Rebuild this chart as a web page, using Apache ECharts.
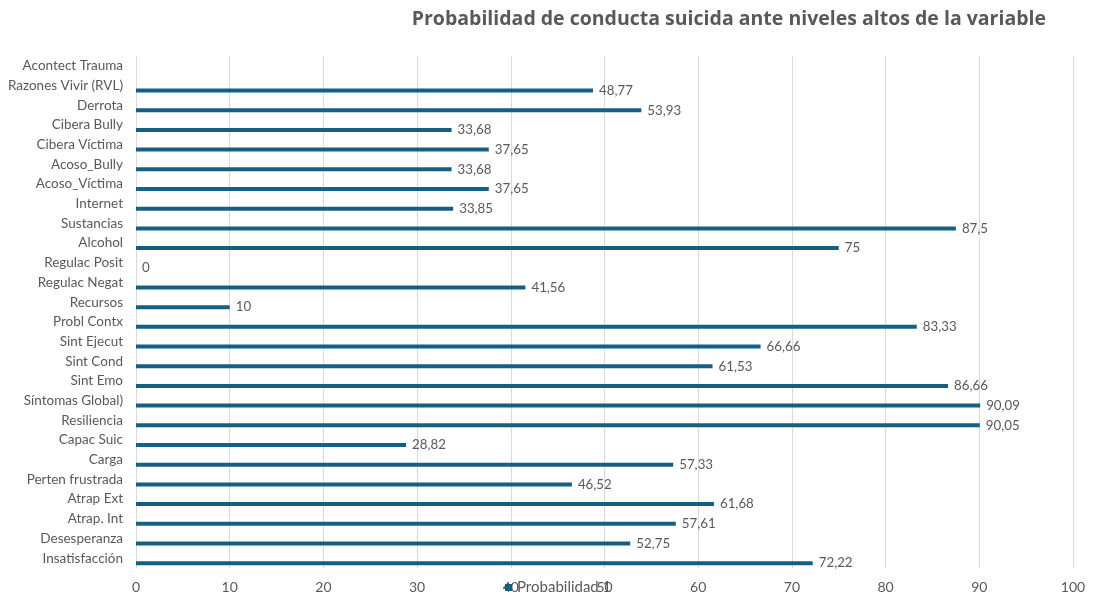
<!DOCTYPE html>
<html>
<head>
<meta charset="utf-8">
<script src="https://cdn.jsdelivr.net/npm/echarts@6/dist/echarts.min.js"></script>
<style>
  html, body { margin: 0; padding: 0; background: #fff; }
  #chart { width: 1093px; height: 597px; }
</style>
</head>
<body>
<div id="chart"></div>
<script>
// categories bottom -> top
const categories = [
  'Insatisfacción', 'Desesperanza', 'Atrap. Int', 'Atrap Ext', 'Perten frustrada',
  'Carga', 'Capac Suic', 'Resiliencia', 'Síntomas Global)', 'Sint Emo',
  'Sint Cond', 'Sint Ejecut', 'Probl Contx', 'Recursos', 'Regulac Negat',
  'Regulac Posit', 'Alcohol', 'Sustancias', 'Internet', 'Acoso_Víctima',
  'Acoso_Bully', 'Cibera Víctima', 'Cibera Bully', 'Derrota', 'Razones Vivir (RVL)',
  'Acontect Trauma'
]
const probabilidad = [
  72.22, 52.75, 57.61, 61.68, 46.52,
  57.33, 28.82, 90.05, 90.09, 86.66,
  61.53, 66.66, 83.33, 10, 41.56,
  0, 75, 87.5, 33.85, 37.65,
  33.68, 37.65, 33.68, 53.93, 48.77,
  null
]
// second, empty series of the original workbook (not shown in the legend)
const vacia = categories.map(() => null)
const xTicks = [0, 10, 20, 30, 40, 50, 60, 70, 80, 90, 100]

const font = 'Lato, "Open Sans", sans-serif'
const grey = '#595959'

const chart = echarts.init(document.getElementById('chart'))
chart.setOption({
  animation: false,
  title: {
    text: 'Probabilidad de conducta suicida ante niveles altos de la variable',
    right: 42,
    top: 4,
    textStyle: { color: grey, fontSize: 19.5, fontWeight: 'bold', fontFamily: '"Open Sans", sans-serif' },
  },
  legend: {
    data: ['Probabilidad 1'],
    left: 500,
    top: 575,
    icon: 'rect',
    itemWidth: 7,
    itemHeight: 7,
    itemGap: 3,
    textStyle: { color: grey, fontSize: 15, fontFamily: font },
  },
  grid: { left: 136, right: 20, top: 56, bottom: 29 },
  xAxis: {
    type: 'value',
    min: xTicks[0],
    max: xTicks[xTicks.length - 1],
    interval: 10,
    axisLine: { show: false },
    axisTick: { show: false },
    axisLabel: { color: grey, fontSize: 14, fontFamily: font, margin: 12 },
    splitLine: { lineStyle: { color: '#d9d9d9', width: 1 } },
  },
  yAxis: {
    type: 'category',
    data: categories,
    axisLine: { show: false },
    axisTick: { show: false },
    axisLabel: { color: grey, fontSize: 13.5, fontFamily: font, margin: 13 },
  },
  series: [{
    name: 'vacia',
    type: 'bar',
    data: vacia,
    barWidth: 4,
    barGap: '150%',
    silent: true,
  }, {
    name: 'Probabilidad 1',
    type: 'bar',
    data: probabilidad,
    barWidth: 4,
    barGap: '150%',
    itemStyle: { color: '#156082' },
    label: {
      show: true,
      position: 'right',
      distance: 6,
      color: grey,
      fontSize: 13.3,
      fontFamily: font,
      formatter: p => p.value == null ? '' : String(p.value).replace('.', ','),
    },
  }],
})
</script>
</body>
</html>
